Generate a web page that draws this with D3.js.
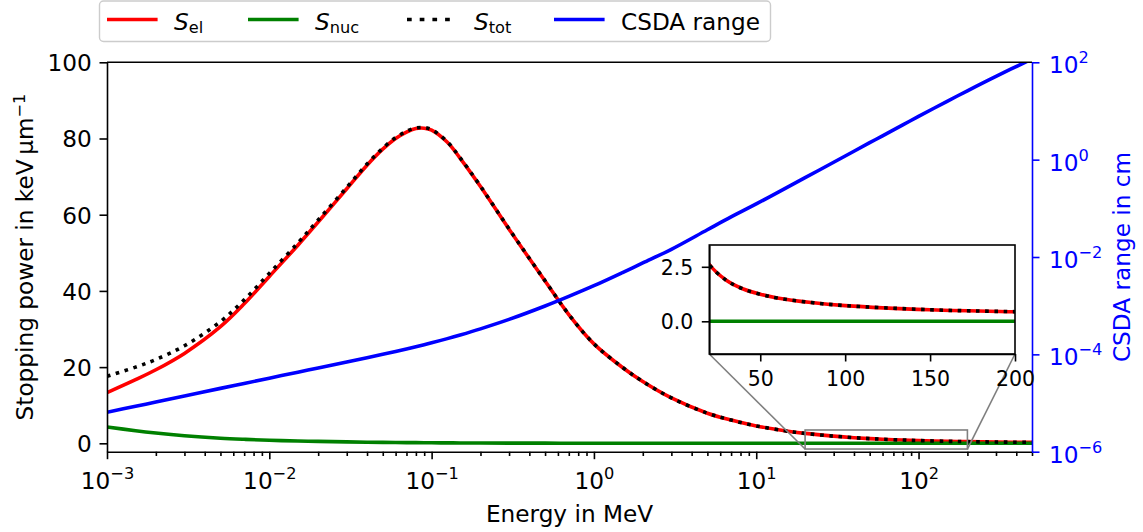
<!DOCTYPE html>
<html>
<head>
<meta charset="utf-8">
<script src="https://cdn.jsdelivr.net/npm/d3@7"></script>
<style>
body { margin: 0; background: #fff; }
text { font-family: "DejaVu Sans", sans-serif; }
</style>
</head>
<body>
<div id="chart"></div>
<script>
// proton energies in MeV
var energy = [0.001, 0.0015, 0.002, 0.003, 0.005, 0.007, 0.01, 0.015, 0.02, 0.03, 0.04, 0.05, 0.06, 0.07, 0.08, 0.09,
              0.1, 0.125, 0.15, 0.2, 0.3, 0.5, 0.7, 1, 1.5, 2, 3, 5, 7, 10, 15, 20, 30, 40, 50, 60, 80,
              100, 150, 200, 300, 500];
// stopping powers in keV/um
var sEl = [13.3, 16.7, 19.3, 23.6, 30.6, 36.6, 43.8, 52.0, 58.1, 66.8, 73.0, 77.2, 80.0, 81.7, 82.6, 82.7,
           82.2, 79.0, 74.8, 67.4, 56.2, 42.6, 33.8, 26.1, 19.9, 16.2, 11.9, 7.9, 6.1, 4.57, 3.3, 2.6, 1.88, 1.48, 1.24, 1.07, 0.86,
           0.72, 0.53, 0.44, 0.33, 0.26];
var sNuc = [4.3, 3.3, 2.7, 2.0, 1.35, 1.05, 0.8, 0.6, 0.5, 0.37, 0.3, 0.25, 0.22, 0.19, 0.17, 0.155,
            0.14, 0.12, 0.1, 0.08, 0.06, 0.04, 0.03, 0.022, 0.016, 0.013, 0.009, 0.006, 0.0045, 0.0033, 0.0023, 0.0018, 0.0013, 0.001, 0.0008, 0.0007, 0.0006,
            0.0005, 0.0003, 0.0003, 0.0002, 0.0001];
var sTot = [17.6, 20.0, 22.0, 25.6, 31.95, 37.65, 44.6, 52.6, 58.6, 67.17, 73.3, 77.45, 80.22, 81.89, 82.77, 82.86,
            82.34, 79.12, 74.9, 67.48, 56.26, 42.64, 33.83, 26.12, 19.92, 16.21, 11.91, 7.91, 6.1, 4.57, 3.3, 2.6, 1.88, 1.48, 1.24, 1.07, 0.86,
            0.72, 0.53, 0.44, 0.33, 0.26];
// CSDA range in cm
var csdaRange = [6.46e-6, 8.57e-6, 1.05e-5, 1.39e-5, 2.0e-5, 2.52e-5, 3.24e-5, 4.3e-5, 5.25e-5, 6.98e-5, 8.55e-5, 1.0e-4, 1.146e-4, 1.288e-4, 1.432e-4, 1.578e-4,
                 1.726e-4, 2.104e-4, 2.5e-4, 3.34e-4, 5.22e-4, 9.84e-4, 1.549e-3, 2.57e-3, 4.79e-3, 7.56e-3, 1.44e-2, 3.63e-2, 6.65e-2, 0.123, 0.254, 0.426, 0.885, 1.49, 2.23, 3.09, 5.18,
                 7.72, 15.8, 26.0, 51.4, 117];

var xTickValues = [1e-3, 1e-2, 1e-1, 1, 10, 100];
var xTickExp = ["\u22123", "\u22122", "\u22121", "0", "1", "2"];
var yTickValues = [0, 20, 40, 60, 80, 100];
var rTickValues = [1e-6, 1e-4, 1e-2, 1, 100];
var rTickExp = ["\u22126", "\u22124", "\u22122", "0", "2"];
var insetXTicks = [50, 100, 150, 200];
var insetYTicks = [0, 2.5];
var zoomRange = [20, 200];

var W = 1143, H = 532;
var margin = {top: 62.3, right: 111, bottom: 80.3, left: 107};
var width = W - margin.left - margin.right,
    height = H - margin.top - margin.bottom;
var fs = 23.2, supFs = 16.2, lw = 3.6;

var svg = d3.select("#chart").append("svg")
            .attr("width", W)
            .attr("height", H);
svg.append("rect").attr("width", W).attr("height", H).attr("fill", "#fff");

var x = d3.scaleLog().domain([1e-3, 500]).range([0, width]);
var y = d3.scaleLinear().domain([-2.2, 100]).range([height, 0]);
var yR = d3.scaleLog().domain([1e-6, 1e2]).range([height, 0]);

var chart = svg.append("g")
               .attr("transform", "translate(" + margin.left + "," + margin.top + ")");

chart.append("clipPath").attr("id", "clipMain")
     .append("rect").attr("width", width).attr("height", height);

var idx = energy.map(function(d, i) { return i; });

function lineFor(vals, sx, sy) {
  return d3.line()
           .x(function(i) { return sx(energy[i]); })
           .y(function(i) { return sy(vals[i]); })
           .curve(d3.curveCatmullRom.alpha(0.5));
}

var series = [
  {vals: sEl, color: "#ff0000", dash: null},
  {vals: sNuc, color: "#008000", dash: null},
  {vals: sTot, color: "#000000", dash: "3.6,5.6"}
];

var plot = chart.append("g").attr("clip-path", "url(#clipMain)");
series.forEach(function(s) {
  plot.append("path")
      .datum(idx)
      .attr("d", lineFor(s.vals, x, y))
      .attr("fill", "none")
      .attr("stroke", s.color)
      .attr("stroke-width", lw)
      .attr("stroke-dasharray", s.dash);
});

// zoom indicator
chart.append("rect")
     .attr("x", x(zoomRange[0]))
     .attr("y", y(3.5))
     .attr("width", x(zoomRange[1]) - x(zoomRange[0]))
     .attr("height", y(-1.5) - y(3.5))
     .attr("fill", "none")
     .attr("stroke", "#808080")
     .attr("stroke-width", 1.6);

// blue range on twin axis
plot.append("path")
    .datum(idx)
    .attr("d", lineFor(csdaRange, x, yR))
    .attr("fill", "none")
    .attr("stroke", "#0000ff")
    .attr("stroke-width", lw);

function styleAxis(g, color) {
  g.attr("font-size", fs).attr("font-family", "DejaVu Sans");
  g.selectAll("line").attr("stroke", color).attr("stroke-width", 1.6);
  g.selectAll("path").attr("stroke", color).attr("stroke-width", 1.6);
  g.selectAll("text").attr("fill", color);
}

function powLabel(sel, exps) {
  sel.each(function(d, i) {
    var t = d3.select(this);
    t.text(null);
    t.append("tspan").text("10");
    t.append("tspan").attr("dy", -10).attr("font-size", supFs).text(exps[i]);
  });
}

// x axis
var xMinor = [];
for (var p = -3; p <= 2; p++) {
  for (var m = 2; m <= 9; m++) {
    var v = m * Math.pow(10, p);
    if (v <= 500) xMinor.push(v);
  }
}
var gxMinor = chart.append("g")
     .attr("transform", "translate(0," + height + ")")
     .call(d3.axisBottom(x).tickValues(xMinor).tickSize(4.3).tickFormat(function() { return ""; }));
gxMinor.select(".domain").remove();
styleAxis(gxMinor, "#000");

var gx = chart.append("g")
     .attr("class", "x axis")
     .attr("transform", "translate(0," + height + ")")
     .call(d3.axisBottom(x).tickValues(xTickValues).tickSize(7.5).tickSizeOuter(0)
             .tickFormat(function() { return ""; }));
styleAxis(gx, "#000");
gx.selectAll(".tick text").attr("y", 37).attr("dy", null).call(powLabel, xTickExp);

// left axis
var gy = chart.append("g")
     .attr("class", "y axis")
     .call(d3.axisLeft(y).tickValues(yTickValues).tickSize(7.5).tickPadding(7.8).tickSizeOuter(0));
styleAxis(gy, "#000");
gy.selectAll(".tick text").attr("dy", "0.36em");

// top spine
chart.append("line")
     .attr("x1", 0).attr("x2", width).attr("y1", 0).attr("y2", 0)
     .attr("stroke", "#000").attr("stroke-width", 1.6);

// right axis
var gr = chart.append("g")
     .attr("transform", "translate(" + width + ",0)")
     .call(d3.axisRight(yR).tickValues(rTickValues).tickSize(7.5).tickPadding(9.5).tickSizeOuter(0)
             .tickFormat(function() { return ""; }));
styleAxis(gr, "#0000ff");
gr.selectAll(".tick text").attr("dy", 10.6).call(powLabel, rTickExp);

// axis titles
chart.append("text")
     .attr("x", width / 2)
     .attr("y", 522 - margin.top)
     .attr("text-anchor", "middle")
     .attr("font-size", fs)
     .text("Energy in MeV");

var yl = svg.append("text")
     .attr("transform", "translate(33,257) rotate(-90)")
     .attr("text-anchor", "middle")
     .attr("font-size", fs);
yl.append("tspan").text("Stopping power in keV\u2009\u00b5m");
yl.append("tspan").attr("dy", -8.5).attr("font-size", supFs).text("\u22121");

svg.append("text")
   .attr("transform", "translate(1130,257) rotate(-90)")
   .attr("text-anchor", "middle")
   .attr("font-size", fs)
   .attr("fill", "#0000ff")
   .text("CSDA range in cm");

// inset
var inset = {x: 709.3, y: 245, w: 305.7, h: 109};
var xi = d3.scaleLinear().domain(zoomRange).range([0, inset.w]);
var yi = d3.scaleLinear().domain([-1.5, 3.5]).range([inset.h, 0]);

// connectors
svg.append("line")
   .attr("x1", margin.left + x(zoomRange[0])).attr("y1", margin.top + y(-1.5))
   .attr("x2", inset.x).attr("y2", inset.y + inset.h)
   .attr("stroke", "#808080").attr("stroke-width", 1.6);
svg.append("line")
   .attr("x1", margin.left + x(zoomRange[1])).attr("y1", margin.top + y(-1.5))
   .attr("x2", inset.x + inset.w).attr("y2", inset.y + inset.h)
   .attr("stroke", "#808080").attr("stroke-width", 1.6);

var gi = svg.append("g").attr("transform", "translate(" + inset.x + "," + inset.y + ")");
gi.append("rect").attr("width", inset.w).attr("height", inset.h).attr("fill", "#fff");
gi.append("clipPath").attr("id", "clipInset")
  .append("rect").attr("width", inset.w).attr("height", inset.h);

var insetIdx = idx.filter(function(i) { return energy[i] >= 15 && energy[i] <= 300; });
var iplot = gi.append("g").attr("clip-path", "url(#clipInset)");
series.forEach(function(s) {
  iplot.append("path")
       .datum(insetIdx)
       .attr("d", lineFor(s.vals, xi, yi))
       .attr("fill", "none")
       .attr("stroke", s.color)
       .attr("stroke-width", lw)
       .attr("stroke-dasharray", s.dash);
});

gi.append("rect").attr("width", inset.w).attr("height", inset.h)
  .attr("fill", "none").attr("stroke", "#000").attr("stroke-width", 1.6);

var gix = gi.append("g")
  .attr("transform", "translate(0," + inset.h + ")")
  .call(d3.axisBottom(xi).tickValues(insetXTicks).tickSize(7.5).tickSizeOuter(0));
styleAxis(gix, "#000");
gix.attr("font-size", 20.5);
gix.selectAll(".tick text").attr("y", 32).attr("dy", null);

var giy = gi.append("g")
  .call(d3.axisLeft(yi).tickValues(insetYTicks).tickSize(7.5).tickPadding(8.5).tickSizeOuter(0)
          .tickFormat(d3.format(".1f")));
styleAxis(giy, "#000");
giy.attr("font-size", 20.5);
giy.selectAll(".tick text").attr("dy", "0.36em");

// legend
var legendItems = [
  {main: "S", sub: "el", color: "#ff0000", dash: null, x: 107},
  {main: "S", sub: "nuc", color: "#008000", dash: null, x: 248},
  {main: "S", sub: "tot", color: "#000000", dash: "4.7,8", x: 407},
  {main: "CSDA range", sub: null, color: "#0000ff", dash: null, x: 554}
];
var legend = svg.append("g");
legend.append("rect")
      .attr("x", 99.5).attr("y", 1)
      .attr("width", 671).attr("height", 40.5)
      .attr("rx", 4)
      .attr("fill", "#fff")
      .attr("stroke", "#cccccc")
      .attr("stroke-width", 1.4);
legendItems.forEach(function(d) {
  legend.append("line")
        .attr("x1", d.x).attr("x2", d.x + 50.6)
        .attr("y1", 19.5).attr("y2", 19.5)
        .attr("stroke", d.color)
        .attr("stroke-width", lw)
        .attr("stroke-dasharray", d.dash);
  var t = legend.append("text")
                .attr("x", d.x + 67)
                .attr("y", 29.5)
                .attr("font-size", fs);
  if (d.sub) {
    t.append("tspan").attr("font-style", "italic").text(d.main);
    t.append("tspan").attr("dy", 3).attr("font-size", supFs).text(d.sub);
  } else {
    t.text(d.main);
  }
});
</script>
</body>
</html>
